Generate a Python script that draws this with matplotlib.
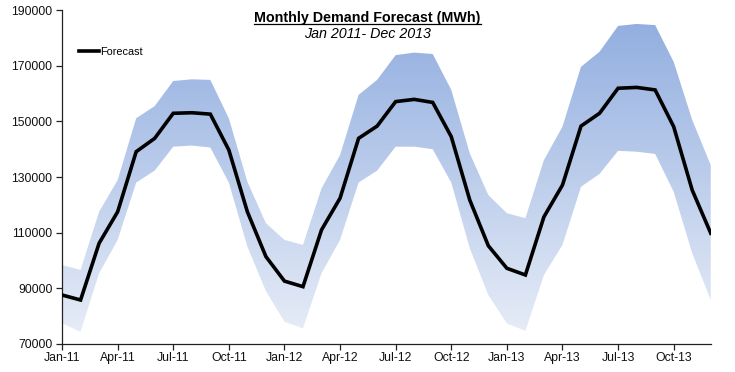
import matplotlib
matplotlib.use("Agg")
import matplotlib.pyplot as plt
import numpy as np
from matplotlib.colors import LinearSegmentedColormap

plt.rcParams['font.family'] = ['Liberation Sans', 'DejaVu Sans']

months = ["Jan-11","Feb-11","Mar-11","Apr-11","May-11","Jun-11","Jul-11","Aug-11","Sep-11","Oct-11","Nov-11","Dec-11",
          "Jan-12","Feb-12","Mar-12","Apr-12","May-12","Jun-12","Jul-12","Aug-12","Sep-12","Oct-12","Nov-12","Dec-12",
          "Jan-13","Feb-13","Mar-13","Apr-13","May-13","Jun-13","Jul-13","Aug-13","Sep-13","Oct-13","Nov-13","Dec-13"]

forecast = [87600, 85800, 106200, 117500, 139100, 143900, 152900, 153100, 152600, 139700, 117500, 101400,
            92600, 90600, 111000, 122400, 143900, 148300, 157100, 157900, 156800, 144500, 121700, 105300,
            97200, 94800, 115700, 127100, 148300, 152900, 161900, 162200, 161300, 148100, 125300, 109800]

upper = [98400, 96600, 117500, 128900, 151100, 155500, 164500, 165100, 164900, 151100, 128300, 113400,
         107400, 105600, 125900, 137900, 159500, 164900, 173800, 174700, 174200, 161300, 138500, 123500,
         117000, 115200, 136100, 148100, 169600, 175000, 184300, 185000, 184600, 171400, 150500, 134300]

lower = [77400, 74400, 95400, 107400, 128000, 132300, 140900, 141300, 140600, 128000, 105000, 89000,
         78000, 75600, 95400, 107400, 128000, 132300, 140900, 140900, 140000, 128000, 104400, 87600,
         77400, 74700, 94800, 105600, 126500, 131100, 139400, 139100, 138300, 124700, 102600, 85800]

yticks = [70000, 90000, 110000, 130000, 150000, 170000, 190000]

x = np.arange(len(months))

fig = plt.figure(figsize=(7.35, 3.72), dpi=100)
ax = fig.add_axes([0.0844, 0.0753, 0.8826, 0.8977])

# band with vertical gradient
poly = ax.fill_between(x, lower, upper, facecolor='none', edgecolor='none')
cmap = LinearSegmentedColormap.from_list('g', ['#E6ECF7', '#93AFE0'])
ymin, ymax = min(lower), max(upper)
grad = np.linspace(0, 1, 256).reshape(-1, 1)
im = ax.imshow(grad, cmap=cmap, aspect='auto', origin='lower',
               extent=[x[0], x[-1], ymin, ymax], zorder=1)
path = poly.get_paths()[0]
im.set_clip_path(path, transform=ax.transData)

ax.plot(x, forecast, color='black', lw=2.6, zorder=3, label='Forecast', solid_joinstyle='miter')

ax.set_xlim(0, len(months) - 1)
ax.set_ylim(70000, 190000)
ax.set_yticks(yticks)
ax.set_yticklabels([str(v) for v in yticks])
ax.set_xticks(x[::3])
ax.set_xticklabels(months[::3])

for s in ['top', 'right']:
    ax.spines[s].set_visible(False)
for s in ['left', 'bottom']:
    ax.spines[s].set_color('#222222')
    ax.spines[s].set_linewidth(0.9)
ax.tick_params(axis='both', direction='out', length=4, width=0.9, color='#222222',
               labelsize=8.8, labelcolor='#111111')
ax.tick_params(axis='x', pad=2)
ax.tick_params(axis='y', pad=3)

leg = ax.legend(loc='center left', bbox_to_anchor=(0.026, 0.874), frameon=False, fontsize=7.8,
                handlelength=1.9, handletextpad=0.1, borderaxespad=0, borderpad=0)

fig.text(0.5, 0.952, 'Monthly Demand Forecast (MWh)', ha='center', va='center',
         fontsize=10.3, fontweight='bold')
fig.text(0.5, 0.908, 'Jan 2011- Dec 2013', ha='center', va='center', fontsize=10.3, style='italic')

fig.canvas.draw()
t = [tt for tt in fig.texts if tt.get_text().startswith('Monthly')][0]
bb = t.get_window_extent().transformed(fig.transFigure.inverted())
fig.add_artist(plt.Line2D([bb.x0, bb.x1], [bb.y0 + 0.003, bb.y0 + 0.003], color='black', lw=0.9,
                          transform=fig.transFigure))

fig.savefig('out.png', dpi=100)
